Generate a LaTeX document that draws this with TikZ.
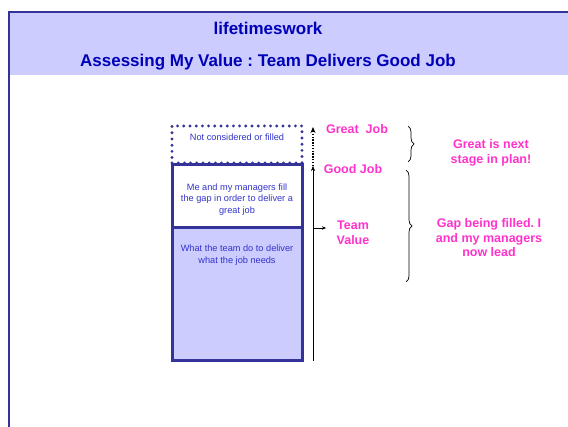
\documentclass[tikz,border=0pt]{standalone}
\usepackage{fontspec}
\setmainfont{Liberation Sans}
\usetikzlibrary{arrows.meta,decorations.pathreplacing}
\frenchspacing
\definecolor{frameblue}{HTML}{333399}
\definecolor{lav}{HTML}{CCCCFF}
\definecolor{titleblue}{HTML}{0000B8}
\definecolor{textblue}{HTML}{3333CC}
\definecolor{pink}{HTML}{FF33CC}
\tikzset{
  boxtext/.style={text=textblue,font=\fontsize{9.2}{11.5}\selectfont,align=center,inner sep=0pt},
  pinklabel/.style={text=pink,font=\bfseries\fontsize{12.5}{14.5}\selectfont,align=center,inner sep=0pt},
  bigbox/.style={draw=frameblue,line width=3pt,minimum width=130pt,inner sep=0pt},
  bracestyle/.style={decorate,decoration={brace,amplitude=6pt},line width=0.7pt},
}
\begin{document}
\begin{tikzpicture}[x=1pt,y=-1pt]
\useasboundingbox (0,0) rectangle (568,427);
\fill[white] (0,0) rectangle (568,427);
% header
\fill[lav] (9,12) rectangle (568,75);
\draw[frameblue,line width=1.8pt] (9,427) -- (9,12) -- (568,12);
\node[text=titleblue,font=\bfseries\fontsize{17}{20}\selectfont] (t1) at (268,28) {lifetimeswork};
\node[text=titleblue,font=\bfseries\fontsize{17}{20}\selectfont] (t2) at (268,62) {Assessing My Value : Team Delivers Good Job};
% boxes
\node[draw=frameblue,line width=3.2pt,dash pattern=on 0pt off 6.2pt,line cap=round,minimum width=130pt,minimum height=37pt] (dotbox) at (237,144.5) {};
\node[bigbox,fill=white,minimum height=63pt] (midbox) at (237,196.5) {};
\node[bigbox,fill=lav,minimum height=133pt] (lowbox) at (237,294.5) {};
\node[boxtext] (dottext) at (237,137) {Not considered or filled};
\node[boxtext] (midtext) at (237,199.5) {Me and my managers fill\\the gap in order to deliver a\\great job};
\node[boxtext] (lowtext) at (237,255) {What the team do to deliver\\what the job needs};
% axis
\coordinate (axbot) at (313,361);
\coordinate (axgood) at (313,166);
\coordinate (axgreat) at (313,127);
\coordinate (axteam) at (313,228);
\coordinate (teamtip) at (326,228);
\draw[line width=0.6pt,-{Stealth[length=5pt,width=4pt]}] (axbot) -- (axgood);
\draw[line width=1.4pt,dash pattern=on 1.4pt off 1.4pt,-{Stealth[length=6pt,width=5pt]}] (axgood) -- (axgreat);
\draw[line width=0.6pt,-{Stealth[length=4pt,width=3.5pt]}] (axteam) -- (teamtip);
\node[pinklabel] (great) at (357,129) {Great\ \ Job};
\node[pinklabel] (good) at (353,169) {Good Job};
\node[pinklabel] (team) at (353,233) {Team\\Value};
% braces
\coordinate (b1a) at (408,126);
\coordinate (b1b) at (408,162);
\coordinate (b2a) at (406,170);
\coordinate (b2b) at (406,282);
\draw[bracestyle] (b1a) -- (b1b);
\draw[bracestyle] (b2a) -- (b2b);
\node[pinklabel] (note1) at (491,153) {Great is next\\stage in plan!};
\node[pinklabel] (note2) at (489,238) {Gap being filled. I\\and my managers\\now lead};
\end{tikzpicture}
\end{document}
